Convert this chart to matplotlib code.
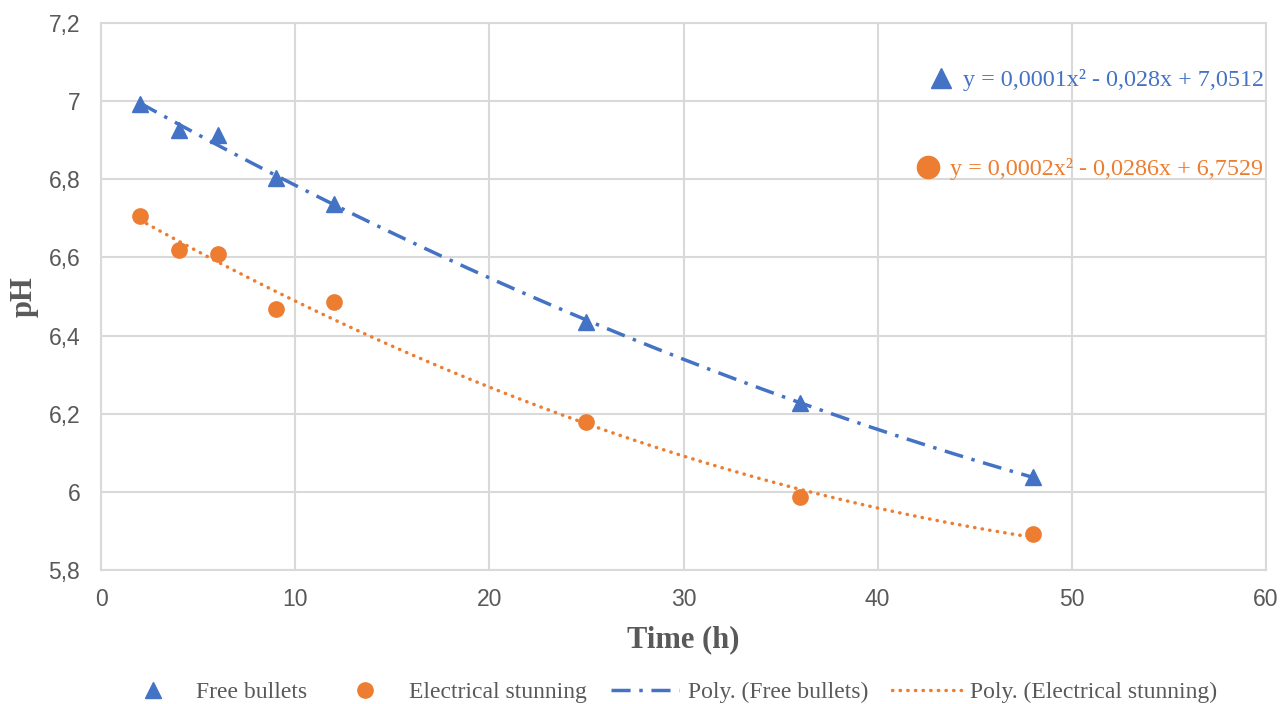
import numpy as np
import matplotlib
matplotlib.use("Agg")
import matplotlib.pyplot as plt

time_h = [2, 4, 6, 9, 12, 25, 36, 48]
free_bullets = [6.992, 6.926, 6.913, 6.803, 6.738, 6.436, 6.228, 6.038]
electrical = [6.705, 6.618, 6.610, 6.467, 6.487, 6.179, 5.987, 5.892]
eq_free = "y = 0,0001x² - 0,028x + 7,0512"
eq_elec = "y = 0,0002x² - 0,0286x + 6,7529"

BLUE = "#4472C4"
ORANGE = "#ED7D31"
GREY = "#595959"
GRID = "#D9D9D9"

fig = plt.figure(figsize=(12.88, 7.04), dpi=100)
ax = fig.add_axes([101/1288, 1-570/704, (1266-101)/1288, (570-23)/704])

ax.plot(time_h, free_bullets, linestyle="none", marker="^", ms=11, color=BLUE,
        label="Free bullets", zorder=3)
ax.plot(time_h, electrical, linestyle="none", marker="o", ms=11, color=ORANGE,
        label="Electrical stunning", zorder=3)

xs = np.linspace(min(time_h), max(time_h), 200)
pf = np.polyfit(time_h, free_bullets, 2)
pe = np.polyfit(time_h, electrical, 2)
ax.plot(xs, np.polyval(pf, xs), color=BLUE, lw=2.5, dashes=(5.5, 2.5, 1, 2.5),
        label="Poly. (Free bullets)", zorder=2)
ax.plot(xs, np.polyval(pe, xs), color=ORANGE, lw=2.5, dashes=(0.1, 2.1),
        dash_capstyle="round", label="Poly. (Electrical stunning)", zorder=2)

ax.set_xlim(0, 60)
ax.set_ylim(5.8, 7.2)
ax.set_xticks(range(0, 61, 10))
ax.set_yticks([5.8, 6.0, 6.2, 6.4, 6.6, 6.8, 7.0, 7.2])
ax.set_yticklabels(["5,8", "6", "6,2", "6,4", "6,6", "6,8", "7", "7,2"])
ax.grid(True, color=GRID, lw=1.5)
ax.set_axisbelow(True)
for s in ax.spines.values():
    s.set_color(GRID)
    s.set_linewidth(1.5)
ax.tick_params(length=0, labelsize=16.5, labelcolor=GREY)
ax.tick_params(axis="y", pad=15)
ax.tick_params(axis="x", pad=13)
for lab in ax.get_xticklabels() + ax.get_yticklabels():
    lab.set_family("Liberation Sans")

ax.set_xlabel("Time (h)", family="Liberation Serif", fontweight="bold",
              fontsize=22, color=GREY, labelpad=10)
ax.set_ylabel("pH", family="Liberation Serif", fontweight="bold",
              fontsize=22, color=GREY, labelpad=7)

# equation labels with markers
ax.plot([43.26], [7.058], marker="^", ms=15, color=BLUE, linestyle="none", clip_on=False)
ax.text(44.39, 7.053, eq_free, color=BLUE, fontsize=17.4, family="Liberation Serif",
        va="center", ha="left")
ax.plot([42.59], [6.831], marker="o", ms=16, color=ORANGE, linestyle="none", clip_on=False)
ax.text(43.73, 6.826, eq_elec, color=ORANGE, fontsize=17.4, family="Liberation Serif",
        va="center", ha="left")

leg = fig.legend(loc="center", bbox_to_anchor=(0.5 + 24/1288, 1-692/704), ncol=4,
                 frameon=False, prop={"family": "Liberation Serif", "size": 17},
                 handlelength=2.9, columnspacing=1.0, handletextpad=0.4)
for t in leg.get_texts():
    t.set_color(GREY)

fig.savefig("out.png", dpi=100)
